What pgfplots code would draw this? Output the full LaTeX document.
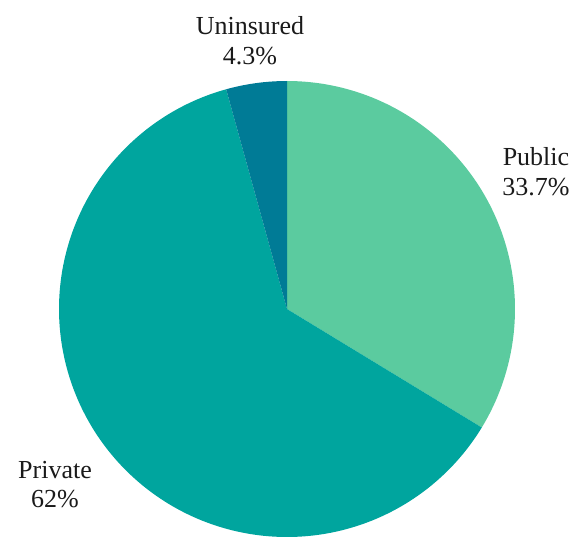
\documentclass[border=0pt]{standalone}
\usepackage{fontspec}
\setmainfont{Liberation Serif}
\usepackage{pgfplots}
\pgfplotsset{compat=1.18}
\definecolor{public}{HTML}{5BCB9F}
\definecolor{private}{HTML}{00A59E}
\definecolor{uninsured}{HTML}{007B96}
\definecolor{txt}{HTML}{1A1A1A}
\tikzset{lbl/.style={font=\rmfamily\fontsize{26}{30}\selectfont, text=txt, anchor=base, inner sep=0pt}}

\begin{document}
\begin{tikzpicture}
\begin{axis}[
    width=587pt, height=536pt, scale only axis,
    xmin=0, xmax=587, ymin=0, ymax=536,
    hide axis, clip=false,
]
\path (rel axis cs:0,0) rectangle (rel axis cs:1,1);
% shares: Public 33.7, Private 62, Uninsured 4.3 -- clockwise from 12 o'clock
% Public: 90 -> 90-121.32
\addplot[draw=none, fill=public, domain=-31.32:90, samples=150]
    ({287+228*cos(x)}, {227+228*sin(x)}) -- (axis cs:287,227) -- cycle;
% Private: -31.32 -> -31.32-223.2
\addplot[draw=none, fill=private, domain=-254.52:-31.32, samples=250]
    ({287+228*cos(x)}, {227+228*sin(x)}) -- (axis cs:287,227) -- cycle;
% Uninsured: -254.52 -> -270
\addplot[draw=none, fill=uninsured, domain=-270:-254.52, samples=30]
    ({287+228*cos(x)}, {227+228*sin(x)}) -- (axis cs:287,227) -- cycle;

\node[lbl] at (axis cs:250,501) {Uninsured};
\node[lbl] at (axis cs:250,471) {4.3\%};
\node[lbl] at (axis cs:536,370) {Public};
\node[lbl] at (axis cs:536,340) {33.7\%};
\node[lbl] at (axis cs:55,58) {Private};
\node[lbl] at (axis cs:55,29) {62\%};
\end{axis}
\end{tikzpicture}
\end{document}
